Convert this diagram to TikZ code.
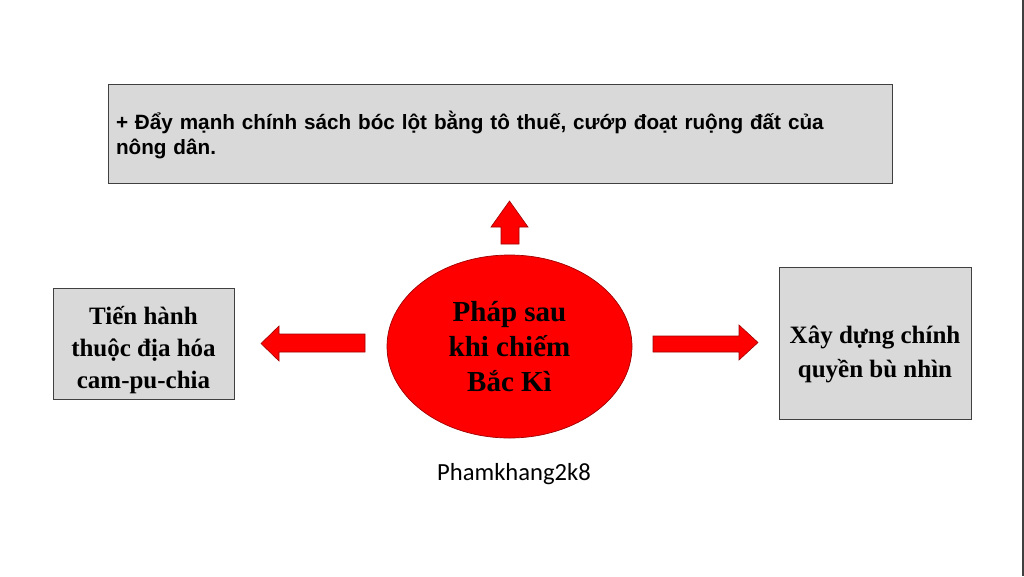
\documentclass[tikz,border=0pt]{standalone}
\usepackage{fontspec}
\setmainfont{Liberation Serif}
\newfontfamily\arialf{Liberation Sans}
\newfontfamily\calibrif{Carlito}
\usetikzlibrary{shapes.geometric}
\definecolor{boxfill}{HTML}{D9D9D9}
\definecolor{boxline}{HTML}{404040}
\definecolor{redfill}{HTML}{FF0000}
\definecolor{redline}{HTML}{A00000}
\tikzset{
  graybox/.style={draw=boxline, fill=boxfill, line width=0.9pt, inner sep=0pt},
  boxtext/.style={inner sep=0pt, align=center, font=\bfseries\fontsize{25}{32}\selectfont},
  blockarrow/.style={draw=redline, fill=redfill, line width=0.6pt, line join=miter},
}
\begin{document}
\begin{tikzpicture}[x=1pt,y=-1pt]
\useasboundingbox[fill=white] (0,0) rectangle (1024,576);
\draw[boxline, line width=2pt] (1023,0) -- (1023,576);

% top box
\node[graybox, minimum width=784pt, minimum height=99pt] (top) at (500,133.5) {};
\node[inner sep=0pt, text width=768pt, align=left, font=\arialf\bfseries\fontsize{20.7}{25}\selectfont] (toptext) at ([yshift=-1.5pt]top.center)
  {+ Đẩy mạnh chính sách bóc lột bằng tô thuế, cướp đoạt ruộng đất của\\nông dân.};

% left box
\node[graybox, minimum width=181pt, minimum height=111pt] (left) at (143.5,343.5) {};
\node[boxtext] (lefttext) at ([yshift=-7pt]left.center) {Tiến hành\\thuộc địa hóa\\cam-pu-chia};

% right box
\node[graybox, minimum width=192pt, minimum height=152pt] (right) at (875,343) {};
\node[boxtext, font=\bfseries\fontsize{25}{34}\selectfont] (righttext) at ([yshift=-11pt]right.center) {Xây dựng chính\\quyền bù nhìn};

% center ellipse
\node[ellipse, draw=redline, fill=redfill, line width=0.7pt, inner sep=0pt, minimum width=245pt, minimum height=183pt,
      align=center, font=\bfseries\fontsize{29}{35}\selectfont] (center) at (509.5,346.5)
  {Pháp sau\\khi chiếm\\Bắc Kì};

% up arrow
\path[blockarrow] (501,244) -- (501,227) -- (491,227) -- (509.5,201) -- (528,227) -- (519,227) -- (519,244) -- cycle;
% left arrow
\path[blockarrow] (365,334) -- (279,334) -- (279,326) -- (261,343.5) -- (279,361) -- (279,352) -- (365,352) -- cycle;
% right arrow
\path[blockarrow] (653,336) -- (739,336) -- (739,325) -- (758,342.5) -- (739,360) -- (739,352) -- (653,352) -- cycle;

% credit
\node[font=\calibrif\fontsize{24.6}{28}\selectfont, anchor=base, inner sep=0pt] (credit) at (514,480) {Phamkhang2k8};
\end{tikzpicture}
\end{document}
